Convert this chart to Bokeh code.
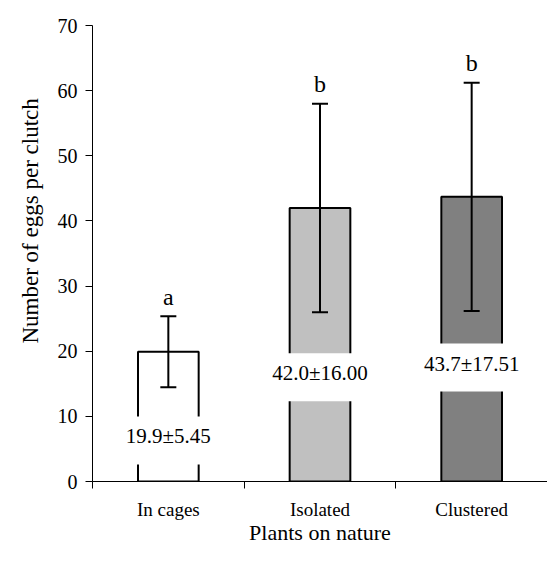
from bokeh.plotting import figure
from bokeh.models import ColumnDataSource, FixedTicker, Whisker, TeeHead, Range1d, Title
from bokeh.core.properties import value
from bokeh.embed import file_html
from bokeh.resources import INLINE

categories = ["In cages", "Isolated", "Clustered"]
means = [19.9, 42.0, 43.7]
errors = [5.45, 16.00, 17.51]
letters = ["a", "b", "b"]
label_y = [6.3, 16.0, 17.5]
bar_colors = ["#ffffff", "#c0c0c0", "#808080"]
y_ticks = [0, 10, 20, 30, 40, 50, 60, 70]

FONT = "Liberation Serif"

xs = [i + 0.5 for i in range(len(categories))]
upper = [m + e for m, e in zip(means, errors)]
lower = [m - e for m, e in zip(means, errors)]
texts = [f"{m:.1f}\u00b1{e:.2f}" for m, e in zip(means, errors)]
letter_y = [u + 3.0 for u in upper]

src = ColumnDataSource(dict(x=xs, mean=means, upper=upper, lower=lower,
                            color=bar_colors, txt=texts, ly=label_y,
                            letter=letters, lety=letter_y))

p = figure(width=547, height=547, x_range=Range1d(0, 3), y_range=Range1d(0, 70),
           output_backend="svg", toolbar_location=None,
           min_border_left=92, min_border_top=25, min_border_bottom=66, min_border_right=0)
p.outline_line_color = None
p.grid.visible = False

p.vbar(x="x", top="mean", bottom=0, width=0.4, source=src, fill_color="color",
       line_color="black", line_width=2)

w = Whisker(base="x", upper="upper", lower="lower", source=src, line_width=2,
            line_color="black", level="annotation",
            upper_head=TeeHead(size=16, line_width=2, line_color="black"),
            lower_head=TeeHead(size=16, line_width=2, line_color="black"))
p.add_layout(w)

p.text(x="x", y="ly", text="txt", source=src, text_align="center", text_baseline="middle",
       text_font=value(FONT), text_font_size="21px", text_color="black",
       background_fill_color="white",
       padding=dict(top=8, right=3, bottom=16, left=3))

p.text(x="x", y="lety", text="letter", source=src, text_align="center",
       text_baseline="alphabetic", text_font=value(FONT), text_font_size="24px",
       text_color="black")

xa = p.xaxis[0]
xa.ticker = FixedTicker(ticks=xs, minor_ticks=[0, 1, 2, 3])
xa.major_label_overrides = {x: c for x, c in zip(xs, categories)}
xa.major_tick_out = 0
xa.major_tick_in = 0
xa.minor_tick_out = 7
xa.minor_tick_in = 0
xa.minor_tick_line_color = "black"
xa.major_label_standoff = 10
xa.axis_label = "Plants on nature"
xa.axis_label_standoff = -3

ya = p.yaxis[0]
ya.ticker = FixedTicker(ticks=y_ticks)
ya.major_tick_out = 7
ya.major_tick_in = 0
ya.minor_tick_line_color = None
ya.major_label_standoff = 8

for ax in (xa, ya):
    ax.axis_line_color = "black"
    ax.axis_line_width = 1
    ax.major_tick_line_color = "black" if ax is ya else None
    ax.major_label_text_font = FONT
    ax.major_label_text_color = "black"
    ax.axis_label_text_font = FONT
    ax.axis_label_text_font_style = "normal"
    ax.axis_label_text_color = "black"
xa.major_label_text_font_size = "19px"
ya.major_label_text_font_size = "20px"
xa.axis_label_text_font_size = "22px"

ytitle = Title(text="Number of eggs per clutch", align="left", offset=138, standoff=20,
               vertical_align="top",
               text_font=FONT, text_font_size="23px", text_font_style="normal",
               text_color="black")
p.add_layout(ytitle, "left")

open("out.html", "w").write(file_html(p, INLINE))
